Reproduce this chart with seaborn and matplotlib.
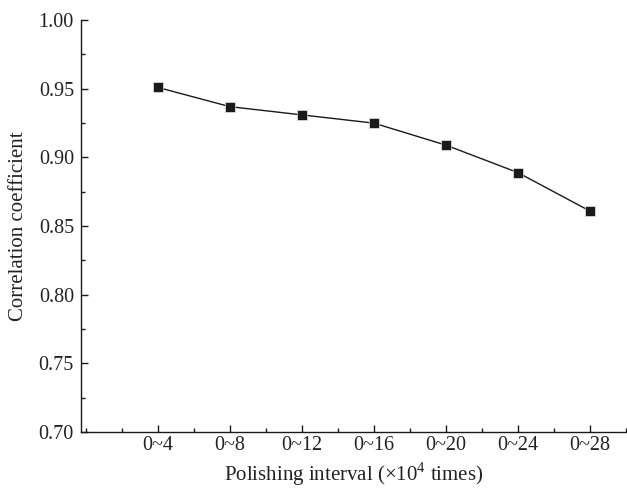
import numpy as np
import pandas as pd
import seaborn as sns
import matplotlib.pyplot as plt
from matplotlib.ticker import MultipleLocator

intervals = ["0~4", "0~8", "0~12", "0~16", "0~20", "0~24", "0~28"]
corr = [0.951, 0.937, 0.931, 0.925, 0.909, 0.889, 0.861]

sns.set_style("ticks")
plt.rcParams["font.family"] = ["Liberation Serif", "DejaVu Serif"]
plt.rcParams["mathtext.fontset"] = "custom"
plt.rcParams["mathtext.rm"] = "Liberation Serif"

df = pd.DataFrame({"pos": np.arange(len(intervals)), "corr": corr})

fig = plt.figure(figsize=(6.27, 4.92), dpi=100)
ax = fig.add_axes([0.129, 0.122, 0.869, 0.837])
sns.lineplot(data=df, x="pos", y="corr", marker="s", markersize=7,
             color="#1a1a1a", linewidth=1, markeredgecolor="white",
             markeredgewidth=0.4, ax=ax)

ax.set_xlim(-1.07, 6.5)
ax.set_ylim(0.70, 1.00)
ax.set_xticks(df["pos"])
ax.set_xticklabels(intervals)
ax.xaxis.set_minor_locator(MultipleLocator(0.5))
ax.yaxis.set_major_locator(MultipleLocator(0.05))
ax.yaxis.set_minor_locator(MultipleLocator(0.025))
ax.yaxis.set_major_formatter(plt.FormatStrFormatter("%.2f"))
ax.tick_params(which="both", direction="in", labelsize=14.5, color="#1a1a1a",
               labelcolor="#222222")
ax.tick_params(which="major", length=5, width=1)
ax.tick_params(axis="x", which="major", pad=3)
ax.tick_params(axis="y", which="major", pad=5)
ax.tick_params(which="minor", length=3, width=1)
for s in ["left", "bottom"]:
    ax.spines[s].set_linewidth(1)
    ax.spines[s].set_color("#1a1a1a")
sns.despine(ax=ax)

ax.set_xlabel(r"Polishing interval (×10$^{4}$ times)", fontsize=15,
              labelpad=4, color="#222222")
ax.set_ylabel("Correlation coefficient", fontsize=15, labelpad=8,
              color="#222222")

fig.savefig("out.png", dpi=100)
